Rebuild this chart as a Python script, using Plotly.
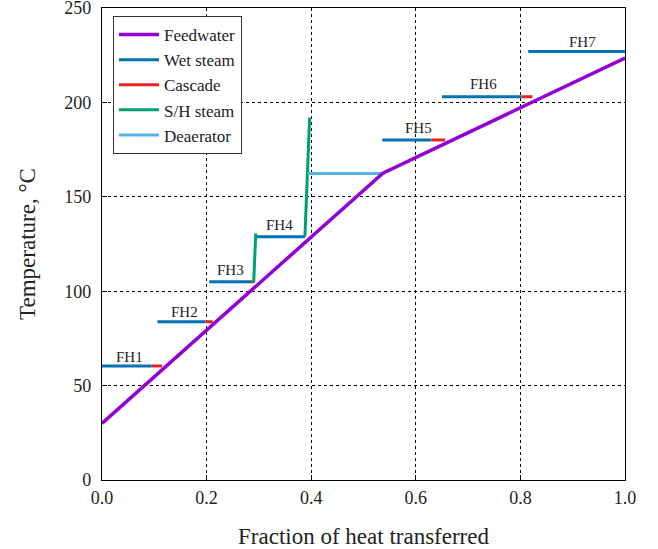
import plotly.graph_objects as go

# Feedwater temperature profile
feed_x = [0.0, 0.537, 1.0]
feed_T = [30.0, 162.5, 223.5]

# Heaters: wet-steam (condensing) segments
heaters = ["FH1", "FH2", "FH3", "FH4", "FH5", "FH6", "FH7"]
wet_x0 = [0.0, 0.106, 0.205, 0.294, 0.536, 0.650, 0.815]
wet_x1 = [0.095, 0.198, 0.285, 0.388, 0.630, 0.802, 1.0]
wet_T = [60.4, 83.8, 105.0, 128.9, 180.1, 203.0, 226.9]

# Cascade (drain cooling) segments
casc_x0 = [0.095, 0.198, 0.285, 0.630, 0.802]
casc_x1 = [0.115, 0.212, 0.291, 0.656, 0.823]
casc_T = [60.4, 83.8, 105.0, 180.1, 203.0]

# Superheated steam (desuperheating) segments
sh_x0 = [0.290, 0.388]
sh_T0 = [104.5, 128.9]
sh_x1 = [0.294, 0.397]
sh_T1 = [130.6, 192.0]

# Deaerator
dea_x = [0.393, 0.541]
dea_T = [162.4, 162.4]

# Heater labels
label_x = [0.052, 0.157, 0.246, 0.340, 0.606, 0.729, 0.918]
label_T = [65.3, 89.1, 111.2, 135.0, 186.4, 209.6, 231.8]


def segs(x0, x1, y0, y1):
    xs, ys = [], []
    for a, b, c, d in zip(x0, x1, y0, y1):
        xs += [a, b, None]
        ys += [c, d, None]
    return xs, ys


FONT = "Liberation Serif"
fig = go.Figure()

wx, wy = segs(wet_x0, wet_x1, wet_T, wet_T)
fig.add_trace(go.Scatter(x=wx, y=wy, mode="lines", name="Wet steam",
                         line=dict(color="#0072B2", width=3), legendrank=2))
cx, cy = segs(casc_x0, casc_x1, casc_T, casc_T)
fig.add_trace(go.Scatter(x=cx, y=cy, mode="lines", name="Cascade",
                         line=dict(color="#E8251B", width=3), legendrank=3))
sx, sy = segs(sh_x0, sh_x1, sh_T0, sh_T1)
fig.add_trace(go.Scatter(x=sx, y=sy, mode="lines", name="S/H steam",
                         line=dict(color="#009E73", width=3), legendrank=4))
fig.add_trace(go.Scatter(x=dea_x, y=dea_T, mode="lines", name="Deaerator",
                         line=dict(color="#56B4E9", width=3), legendrank=5))
fig.add_trace(go.Scatter(x=feed_x, y=feed_T, mode="lines", name="Feedwater",
                         line=dict(color="#9400D3", width=3.5), legendrank=1))

for name, lx, ly in zip(heaters, label_x, label_T):
    fig.add_annotation(x=lx, y=ly, text=name, showarrow=False,
                       font=dict(family=FONT, size=15, color="#222"))

axis_common = dict(
    showline=True, linecolor="black", linewidth=1.2, mirror=True,
    showgrid=True, gridcolor="black", gridwidth=1, griddash="dot",
    ticks="inside", ticklen=5, tickcolor="black",
    zeroline=False, automargin=False, ticklabeloverflow="allow",
    tickfont=dict(family=FONT, size=18, color="#222"),
)

fig.update_layout(
    width=658, height=549,
    margin=dict(l=102, r=33, t=8, b=69),
    plot_bgcolor="white", paper_bgcolor="white",
    font=dict(family=FONT, color="#222"),
    xaxis=dict(range=[0, 1], dtick=0.2, tickformat=".1f",
               ticklabelstandoff=1,
               title=dict(text="Fraction of heat transferred",
                          font=dict(family=FONT, size=23), standoff=21),
               **axis_common),
    yaxis=dict(range=[0, 250], dtick=50, ticklabelstandoff=6,
               title=dict(text="Temperature, °C",
                          font=dict(family=FONT, size=23), standoff=22),
               **axis_common),
    legend=dict(x=0.021, y=0.983, xanchor="left", yanchor="top",
                bgcolor="white", bordercolor="#333", borderwidth=1,
                font=dict(family=FONT, size=17), tracegroupgap=0,
                itemwidth=40),
    showlegend=True,
)

fig.write_html(
    "out.html",
    config={"displayModeBar": False},
    post_script="document.body.style.margin='0';document.body.style.overflow='hidden';",
)
